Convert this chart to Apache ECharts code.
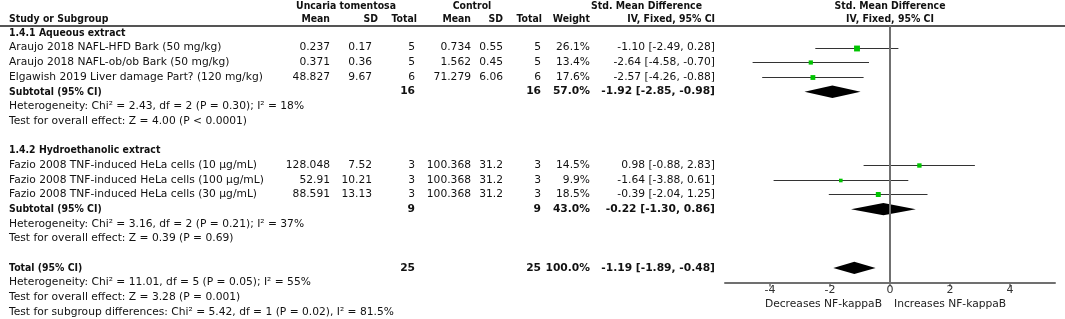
<!DOCTYPE html>
<html>
<head>
<meta charset="utf-8">
<script src="https://cdn.jsdelivr.net/npm/echarts@6/dist/echarts.min.js"></script>
<style>
html,body{margin:0;padding:0;background:#fff}
#main{width:1065px;height:319px}
</style>
</head>
<body>
<div id="main"></div>
<script>
// studies
var studyNames = [
  'Araujo 2018 NAFL-HFD Bark (50 mg/kg)',
  'Araujo 2018 NAFL-ob/ob Bark (50 mg/kg)',
  'Elgawish 2019 Liver damage Part? (120 mg/kg)',
  'Fazio 2008 TNF-induced HeLa cells (10 µg/mL)',
  'Fazio 2008 TNF-induced HeLa cells (100 µg/mL)',
  'Fazio 2008 TNF-induced HeLa cells (30 µg/mL)'
];
var groupOf = [0, 0, 0, 1, 1, 1];
var expMean = [0.237, 0.371, 48.827, 128.048, 52.91, 88.591];
var expSD = [0.17, 0.36, 9.67, 7.52, 10.21, 13.13];
var expN = [5, 5, 6, 3, 3, 3];
var ctlMean = [0.734, 1.562, 71.279, 100.368, 100.368, 100.368];
var ctlSD = [0.55, 0.45, 6.06, 31.2, 31.2, 31.2];
var ctlN = [5, 5, 6, 3, 3, 3];
var weight = [26.1, 13.4, 17.6, 14.5, 9.9, 18.5];
var smd = [-1.10, -2.64, -2.57, 0.98, -1.64, -0.39];
var ciLo = [-2.49, -4.58, -4.26, -0.88, -3.88, -2.04];
var ciHi = [0.28, -0.70, -0.88, 2.83, 0.61, 1.25];

// subgroups
var groupNames = ['1.4.1 Aqueous extract', '1.4.2 Hydroethanolic extract'];
var subExpN = [16, 9];
var subCtlN = [16, 9];
var subWeight = [57.0, 43.0];
var subSmd = [-1.92, -0.22];
var subLo = [-2.85, -1.30];
var subHi = [-0.98, 0.86];
var subHet = [
  'Heterogeneity: Chi² = 2.43, df = 2 (P = 0.30); I² = 18%',
  'Heterogeneity: Chi² = 3.16, df = 2 (P = 0.21); I² = 37%'
];
var subTest = [
  'Test for overall effect: Z = 4.00 (P < 0.0001)',
  'Test for overall effect: Z = 0.39 (P = 0.69)'
];

// overall
var totExpN = 25, totCtlN = 25, totWeight = 100.0;
var totSmd = -1.19, totLo = -1.89, totHi = -0.48;
var totNotes = [
  'Heterogeneity: Chi² = 11.01, df = 5 (P = 0.05); I² = 55%',
  'Test for overall effect: Z = 3.28 (P = 0.001)',
  'Test for subgroup differences: Chi² = 5.42, df = 1 (P = 0.02), I² = 81.5%'
];

var xTicks = [-4, -2, 0, 2, 4];
var favLeft = 'Decreases NF-kappaB', favRight = 'Increases NF-kappaB';

// layout
var FONT = '10.7px "DejaVu Sans"';
var BFONT = 'bold 11px "DejaVu Sans"';
var NFONT = 'bold 10.7px "DejaVu Sans"';
var WORD_SX = 0.85;   // bold words squeezed a bit, the original bold face is narrower
var rowH = 14.68, firstRowY = 33;
var col = {name: 9, eMean: 330, eSD: 372, eN: 415, cMean: 471, cSD: 503, cN: 541, w: 590, ci: 715};

function f2(v) { return v.toFixed(2); }
function ciText(m, l, h) { return f2(m) + ' [' + f2(l) + ', ' + f2(h) + ']'; }

var cells = [];      // table text
var studyPts = [];   // [smd,row,lo,hi,weight]
var diamonds = [];   // [smd,row,lo,hi]
// kind: 0 regular, 1 bold words, 2 bold numbers
function cell(row, x, align, text, kind) { cells.push({row: row, x: x, align: align, text: text, kind: kind || 0}); }

var r = 0;
for (var g = 0; g < groupNames.length; g++) {
  cell(r, col.name, 'left', groupNames[g], 1);
  r++;
  for (var i = 0; i < studyNames.length; i++) {
    if (groupOf[i] != g) continue;
    cell(r, col.name, 'left', studyNames[i]);
    cell(r, col.eMean, 'right', String(expMean[i]));
    cell(r, col.eSD, 'right', String(expSD[i]));
    cell(r, col.eN, 'right', String(expN[i]));
    cell(r, col.cMean, 'right', String(ctlMean[i]));
    cell(r, col.cSD, 'right', String(ctlSD[i]));
    cell(r, col.cN, 'right', String(ctlN[i]));
    cell(r, col.w, 'right', weight[i].toFixed(1) + '%');
    cell(r, col.ci, 'right', ciText(smd[i], ciLo[i], ciHi[i]));
    studyPts.push([smd[i], r, ciLo[i], ciHi[i], weight[i]]);
    r++;
  }
  cell(r, col.name, 'left', 'Subtotal (95% CI)', 1);
  cell(r, col.eN, 'right', String(subExpN[g]), 2);
  cell(r, col.cN, 'right', String(subCtlN[g]), 2);
  cell(r, col.w, 'right', subWeight[g].toFixed(1) + '%', 2);
  cell(r, col.ci, 'right', ciText(subSmd[g], subLo[g], subHi[g]), 2);
  diamonds.push([subSmd[g], r, subLo[g], subHi[g]]);
  cell(r + 1, col.name, 'left', subHet[g]);
  cell(r + 2, col.name, 'left', subTest[g]);
  r += 4;
}
cell(r, col.name, 'left', 'Total (95% CI)', 1);
cell(r, col.eN, 'right', String(totExpN), 2);
cell(r, col.cN, 'right', String(totCtlN), 2);
cell(r, col.w, 'right', totWeight.toFixed(1) + '%', 2);
cell(r, col.ci, 'right', ciText(totSmd, totLo, totHi), 2);
diamonds.push([totSmd, r, totLo, totHi]);
for (var k = 0; k < totNotes.length; k++) cell(r + 1 + k, col.name, 'left', totNotes[k]);
var axisRow = r + 1;

var myChart = echarts.init(document.getElementById('main'));

function hdr(x, y, text, align) {
  return {type: 'text', x: x, y: y, scaleX: WORD_SX,
    style: {text: text, font: BFONT, fill: '#111', align: align, verticalAlign: 'middle'}};
}

var option = {
  animation: false,
  grid: {left: 725, right: 10, top: firstRowY - 0.5 * rowH, height: (axisRow + 0.5) * rowH},
  xAxis: {
    type: 'value', min: -5.5, max: 5.5, position: 'bottom',
    splitLine: {show: false},
    axisLine: {onZero: false, lineStyle: {color: '#707070', width: 2}},
    axisTick: {customValues: xTicks, length: 4, lineStyle: {color: '#707070', width: 1.5}},
    axisLabel: {customValues: xTicks, margin: 2, fontSize: 11, fontFamily: 'DejaVu Sans', color: '#333'}
  },
  yAxis: {type: 'value', min: -0.5, max: axisRow, inverse: true, show: false},
  graphic: [
    {type: 'line', shape: {x1: 0, y1: 26, x2: 1065, y2: 26}, style: {stroke: '#555', lineWidth: 2}},
    hdr(346, 6, 'Uncaria tomentosa', 'center'),
    hdr(472, 6, 'Control', 'center'),
    hdr(702, 6, 'Std. Mean Difference', 'right'),
    hdr(890, 6, 'Std. Mean Difference', 'center'),
    hdr(col.name, 19, 'Study or Subgroup', 'left'),
    hdr(col.eMean, 19, 'Mean', 'right'),
    hdr(col.eSD + 6, 19, 'SD', 'right'),
    hdr(col.eN + 2, 19, 'Total', 'right'),
    hdr(col.cMean, 19, 'Mean', 'right'),
    hdr(col.cSD, 19, 'SD', 'right'),
    hdr(col.cN + 1, 19, 'Total', 'right'),
    hdr(col.w, 19, 'Weight', 'right'),
    hdr(col.ci, 19, 'IV, Fixed, 95% CI', 'right'),
    hdr(890, 19, 'IV, Fixed, 95% CI', 'center'),
    {type: 'text', x: 882, y: 304, style: {text: favLeft, font: FONT, fill: '#222', align: 'right', verticalAlign: 'middle'}},
    {type: 'text', x: 894, y: 304, style: {text: favRight, font: FONT, fill: '#222', align: 'left', verticalAlign: 'middle'}}
  ],
  series: [
    {
      // zero line
      type: 'line', data: [[0, -0.5], [0, axisRow]], symbol: 'none', silent: true,
      lineStyle: {color: '#707070', width: 2}
    },
    {
      type: 'custom', clip: false, silent: true,
      data: cells.map(function (c) { return [0, c.row]; }),
      renderItem: function (params, api) {
        var c = cells[params.dataIndex];
        var y = api.coord([0, api.value(1)])[1];
        return {type: 'text', x: c.x, y: y, scaleX: c.kind == 1 ? WORD_SX : 1, style: {
          text: c.text, fill: '#111', align: c.align, verticalAlign: 'middle',
          font: c.kind == 1 ? BFONT : (c.kind == 2 ? NFONT : FONT)
        }};
      }
    },
    {
      type: 'custom', clip: false, silent: true,
      data: studyPts,
      renderItem: function (params, api) {
        var p = api.coord([api.value(0), api.value(1)]);
        var a = api.coord([api.value(2), api.value(1)]);
        var b = api.coord([api.value(3), api.value(1)]);
        var s = 1.15 * Math.sqrt(api.value(4));
        var y = Math.round(p[1]) + 0.5;
        return {type: 'group', children: [
          {type: 'line', shape: {x1: a[0], y1: y, x2: b[0], y2: y}, style: {stroke: '#333', lineWidth: 1}},
          {type: 'rect', shape: {x: p[0] - s / 2, y: y - s / 2, width: s, height: s}, style: {fill: '#00c400'}}
        ]};
      }
    },
    {
      type: 'custom', clip: false, silent: true,
      data: diamonds,
      renderItem: function (params, api) {
        var p = api.coord([api.value(0), api.value(1)]);
        var a = api.coord([api.value(2), api.value(1)]);
        var b = api.coord([api.value(3), api.value(1)]);
        var h = 6.2;
        return {type: 'polygon', shape: {points: [[a[0], p[1]], [p[0], p[1] - h], [b[0], p[1]], [p[0], p[1] + h]]}, style: {fill: '#000'}};
      }
    }
  ]
};
myChart.setOption(option);
</script>
</body>
</html>
